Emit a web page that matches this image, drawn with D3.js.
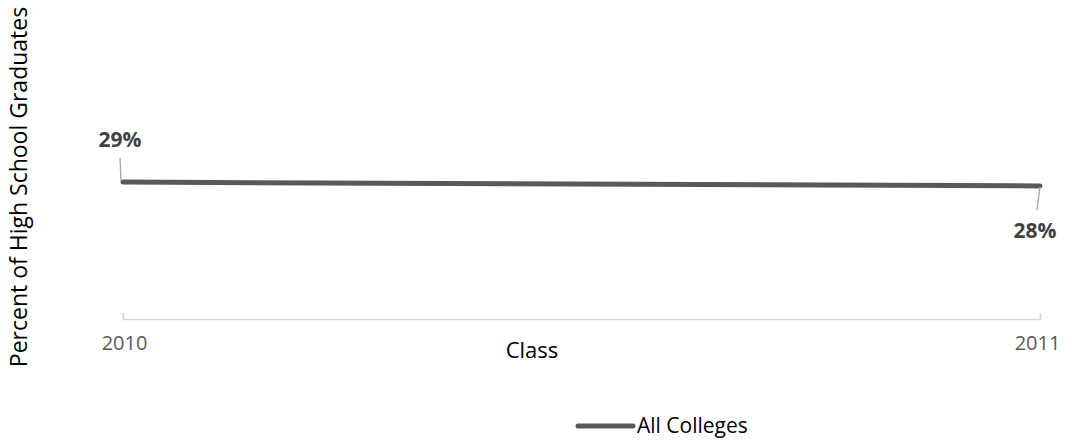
<!DOCTYPE html>
<html>
<head>
<meta charset="utf-8">
<script src="https://cdn.jsdelivr.net/npm/d3@7"></script>
<style>
  body { margin: 0; background: #fff; }
  text { font-family: "Open Sans", Lato, sans-serif; }
</style>
</head>
<body>
<div class="line-chart-container"></div>
<script>
// data
const classes = ['2010', '2011'];
const allColleges = [0.29, 0.282];
const seriesName = 'All Colleges';

const svg_width = 1068;
const svg_height = 442;
const margin = { top: 83, right: 28, bottom: 123, left: 123 };
const chart_width = 917;
const chart_height = svg_height - margin.top - margin.bottom;

const svg = d3.select('.line-chart-container').append('svg')
    .attr('width', svg_width).attr('height', svg_height);
const g = svg.append('g').attr('transform', `translate(${margin.left},${margin.top})`);

// scales
const xScale = d3.scalePoint().domain(classes).range([0, chart_width]).padding(0);
const yScale = d3.scaleLinear().domain([0, 0.5]).range([chart_height, 0]);

// x axis: baseline with small ticks pointing up
const xAxis = d3.axisBottom(xScale).tickSizeInner(-6).tickSizeOuter(-6).tickPadding(17);
const xAxisDraw = g.append('g').attr('class', 'x axis')
    .attr('transform', `translate(0,${chart_height})`).call(xAxis);
xAxisDraw.selectAll('path, line').attr('stroke', '#d9d9d9').attr('stroke-width', 1.5);
xAxisDraw.selectAll('text').style('font-size', '20px').style('fill', '#595959')
    .attr('dx', (d, i) => i === 0 ? '1' : '-3');

// line
const data = classes.map((c, i) => ({ cls: c, value: allColleges[i] }));
const line = d3.line().x(d => xScale(d.cls)).y(d => yScale(d.value));
g.append('path').datum(data)
    .attr('d', line)
    .attr('fill', 'none')
    .attr('stroke', '#595959')
    .attr('stroke-width', 5)
    .attr('stroke-linecap', 'round');

// data labels with leader lines
const fmt = d3.format('.0%');
const labelOffsets = [
    { lx1: -2, ly1: -1, lx2: -3, ly2: -24, tx: -3, ty: -35 },
    { lx1: 0, ly1: 1, lx2: -3, ly2: 24, tx: -5, ty: 52 }
];
data.forEach((d, i) => {
    const x = xScale(d.cls), y = yScale(d.value), o = labelOffsets[i];
    g.append('line')
        .attr('x1', x + o.lx1).attr('y1', y + o.ly1)
        .attr('x2', x + o.lx2).attr('y2', y + o.ly2)
        .attr('stroke', '#a6a6a6').attr('stroke-width', 1.3);
    g.append('text')
        .attr('x', x + o.tx).attr('y', y + o.ty)
        .attr('text-anchor', 'middle')
        .style('font-size', '21px').style('font-weight', 'bold').style('fill', '#404040')
        .text(fmt(d.value));
});

// axis titles
svg.append('text')
    .attr('x', 532).attr('y', 358)
    .attr('text-anchor', 'middle')
    .style('font-size', '22px').style('fill', '#000')
    .text('Class');
svg.append('text')
    .attr('transform', 'translate(27,187) rotate(-90)')
    .attr('text-anchor', 'middle')
    .style('font-size', '23px').style('fill', '#000')
    .text('Percent of High School Graduates');

// legend
const legend = svg.append('g').attr('transform', 'translate(578,426)');
legend.append('line')
    .attr('x1', 0).attr('x2', 55).attr('y1', 0).attr('y2', 0)
    .attr('stroke', '#595959').attr('stroke-width', 5).attr('stroke-linecap', 'round');
legend.append('text')
    .attr('x', 59).attr('y', 7)
    .style('font-size', '21px').style('fill', '#000')
    .text(seriesName);
</script>
</body>
</html>
